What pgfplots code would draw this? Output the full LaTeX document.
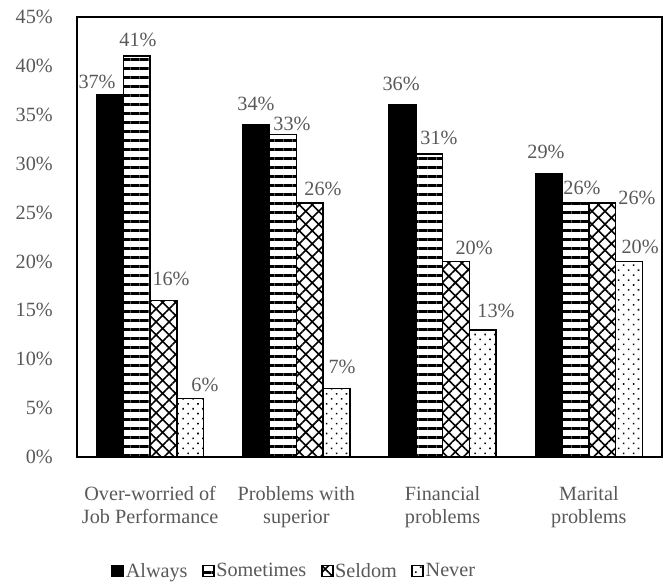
\documentclass[border=0pt]{standalone}
\usepackage{pgfplots}
\pgfplotsset{compat=1.18}
\usepackage{fontspec}
\setmainfont{Liberation Serif}
\usetikzlibrary{patterns.meta}
\definecolor{txt}{HTML}{595959}

\newcommand{\chartfont}{\fontsize{20.3}{23}\selectfont}

\pgfplotsset{
  sqlegend/.style={legend image code/.code={%
    \draw[##1, line width=1.8bp] (0bp,-5.5bp) rectangle (11bp,5.5bp);}},
  barbase/.style={ybar, bar width=26.75bp, draw=black, line width=1.6bp, sqlegend},
}

\begin{document}
\begin{tikzpicture}
\path[use as bounding box] (-77bp,-125bp) rectangle (592bp,457bp);
\begin{axis}[
  at={(0,0)}, anchor=south west,
  width=585bp, height=440bp, scale only axis,
  xmin=-0.5, xmax=3.5, ymin=0, ymax=45,
  xtick={0,1,2,3},
  xticklabels={{Over-worried of\\Job Performance},{Problems with\\superior},{Financial\\problems},{Marital\\problems}},
  ytick={0,5,...,45},
  yticklabel={\pgfmathprintnumber{\tick}\%},
  /pgf/number format/assume math mode=true,
  major tick length=0pt,
  axis line style={black, line width=1.8bp},
  tick label style={font=\chartfont, text=txt, inner sep=0pt},
  xticklabel style={align=center, anchor=north, yshift=-29.5bp},
  yticklabel style={anchor=east, xshift=-24bp},
  legend style={at={(0.371,-0.259)}, anchor=center, draw=none, fill=none,
    font=\chartfont, text=txt, nodes={inner sep=1.5bp},
    /tikz/every even column/.append style={column sep=13bp}},
  legend columns=4,
  clip=false,
]
\addplot[barbase, bar shift=-40.125bp, fill=black]
  coordinates {(0,37) (1,34) (2,36) (3,29)};
\addlegendentry{Always}
\addplot[barbase, bar shift=-13.375bp, pattern={Lines[angle=0,distance=9bp,line width=3bp]}, pattern color=black]
  coordinates {(0,41) (1,33) (2,31) (3,26)};
\addlegendentry{Sometimes}
\addplot[barbase, bar shift=13.375bp, pattern={Hatch[angle=45,distance=9.2bp,line width=1.6bp]}, pattern color=black]
  coordinates {(0,16) (1,26) (2,20) (3,26)};
\addlegendentry{Seldom}
\addplot[barbase, bar shift=40.125bp, pattern={Dots[angle=45,distance=7bp,radius=1.1bp]}, pattern color=black]
  coordinates {(0,6) (1,7) (2,13) (3,20)};
\addlegendentry{Never}

% value labels, placed just above their bars
\addplot[forget plot, only marks, mark=*, mark size=0pt, mark options={draw=none, fill=none},
  point meta=explicit,
  nodes near coords={\pgfmathprintnumber{\pgfplotspointmeta}\%},
  every node near coord/.style={anchor=center, inner sep=0pt, font=\chartfont, text=txt}]
  table[x=x, y=y, meta=v] {
x      y      v
-0.363 38.35  37
-0.083 42.65  41
 0.143 18.2   16
 0.375  7.36   6
 0.724 36.1   34
 0.970 34.06  33
 1.182 27.4   26
 1.312  9.2    7
 1.716 38.15  36
 1.975 32.6   31
 2.215 21.4   20
 2.365 14.9   13
 2.707 31.2   29
 2.953 27.5   26
 3.329 26.5   26
 3.350 21.5   20
};
\end{axis}
\end{tikzpicture}
\end{document}
